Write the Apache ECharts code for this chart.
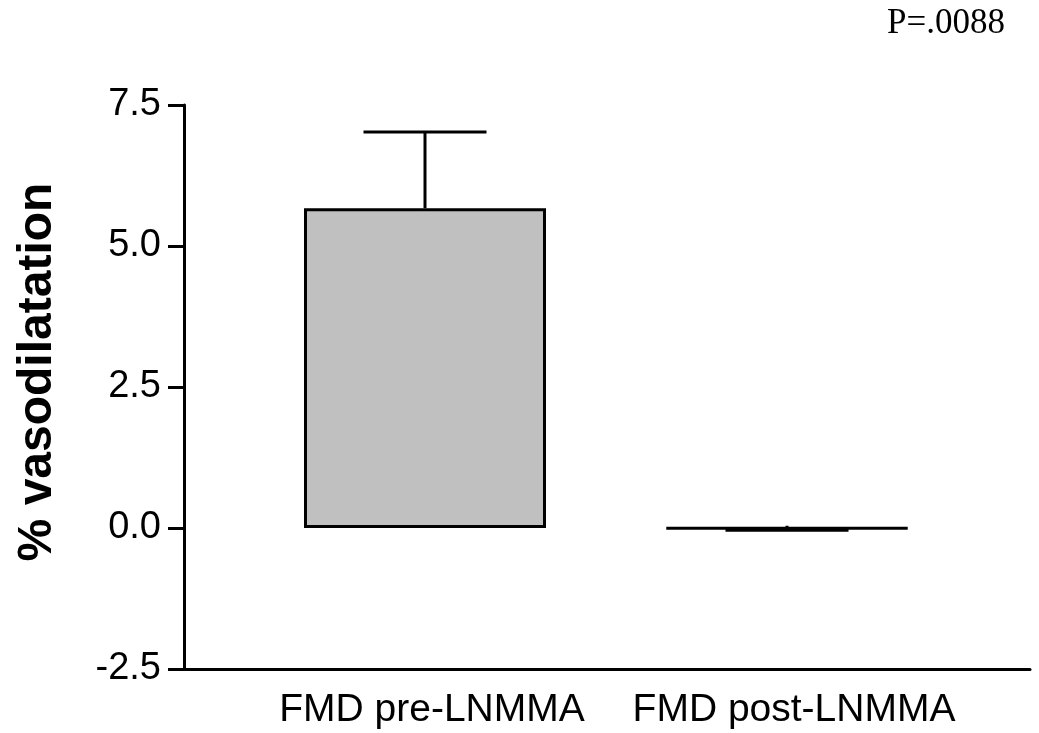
<!DOCTYPE html>
<html>
<head>
<meta charset="utf-8">
<script src="https://cdn.jsdelivr.net/npm/echarts@6/dist/echarts.min.js"></script>
<style>
html,body{margin:0;padding:0;background:#fff;}
#chart{width:1039px;height:733px;}
</style>
</head>
<body>
<div id="chart"></div>
<script>
// Data
var categories = ['FMD pre-LNMMA', 'FMD post-LNMMA'];
var means = [5.67, -0.01];
var errorEnds = [7.02, -0.04];
var errorStubs = [null, 0.04];
var yTicks = [-2.5, 0.0, 2.5, 5.0, 7.5];
var pText = 'P=.0088';
var yTitle = '% vasodilatation';

var chart = echarts.init(document.getElementById('chart'), null, {renderer: 'canvas'});

var errData = categories.map(function (c, i) {
  return [i, means[i], errorEnds[i], errorStubs[i] === null ? means[i] : errorStubs[i]];
});

var option = {
  backgroundColor: '#ffffff',
  animation: false,
  grid: [
    {left: 184, right: 9, top: 105, bottom: 64},
    {left: 244, width: 724, top: 105, bottom: 64}
  ],
  xAxis: [
    {
      gridIndex: 0, type: 'value', min: 0, max: 1,
      axisLine: {show: true, onZero: false, lineStyle: {color: '#000', width: 3}},
      axisTick: {show: false}, axisLabel: {show: false}, splitLine: {show: false}
    },
    {
      gridIndex: 1, type: 'category', data: categories, boundaryGap: true,
      axisLine: {show: false}, axisTick: {show: false}, splitLine: {show: false},
      axisLabel: {
        color: '#000', fontFamily: 'Liberation Sans, Arial, sans-serif', fontSize: 39,
        margin: 22, interval: 0, padding: [0, 0, 0, 14]
      }
    }
  ],
  yAxis: [
    {
      gridIndex: 0, type: 'value', min: yTicks[0], max: yTicks[yTicks.length - 1], interval: 2.5,
      axisLine: {show: true, lineStyle: {color: '#000', width: 3}},
      axisTick: {show: true, length: 16, lineStyle: {color: '#000', width: 3}},
      splitLine: {show: false},
      axisLabel: {
        color: '#000', fontFamily: 'Liberation Sans, Arial, sans-serif', fontSize: 38, margin: 23,
        formatter: function (v) { return v.toFixed(1); }
      },
      name: yTitle, nameLocation: 'middle', nameGap: 122, nameRotate: 90,
      nameTextStyle: {
        color: '#000', fontFamily: 'Liberation Sans, Arial, sans-serif', fontSize: 48, fontWeight: 'bold',
        padding: [0, 0, 0, 30]
      }
    },
    {
      gridIndex: 1, type: 'value', min: yTicks[0], max: yTicks[yTicks.length - 1], interval: 2.5,
      show: false
    }
  ],
  series: [
    {
      type: 'bar', xAxisIndex: 1, yAxisIndex: 1, data: means, barWidth: 242,
      itemStyle: {color: '#c0c0c0', borderColor: '#000', borderWidth: 3},
      z: 2
    },
    {
      type: 'custom', xAxisIndex: 1, yAxisIndex: 1, data: errData, z: 3,
      renderItem: function (params, api) {
        var x = api.value(0);
        var base = api.coord([x, api.value(1)]);
        var end = api.coord([x, api.value(2)]);
        var stub = api.coord([x, api.value(3)]);
        var hw = 61.5;
        return {
          type: 'group',
          children: [
            {type: 'line', shape: {x1: base[0], y1: base[1], x2: end[0], y2: end[1]}, style: {stroke: '#000', lineWidth: 3}},
            {type: 'line', shape: {x1: end[0] - hw, y1: end[1], x2: end[0] + hw, y2: end[1]}, style: {stroke: '#000', lineWidth: 3}},
            {type: 'line', shape: {x1: base[0], y1: base[1], x2: stub[0], y2: stub[1]}, style: {stroke: '#000', lineWidth: 3}}
          ]
        };
      }
    }
  ],
  graphic: [
    {
      type: 'text', right: 34, top: 6,
      style: {text: pText, fill: '#000', font: '35px "Liberation Serif", "Times New Roman", serif'}
    }
  ]
};
chart.setOption(option);
</script>
</body>
</html>
